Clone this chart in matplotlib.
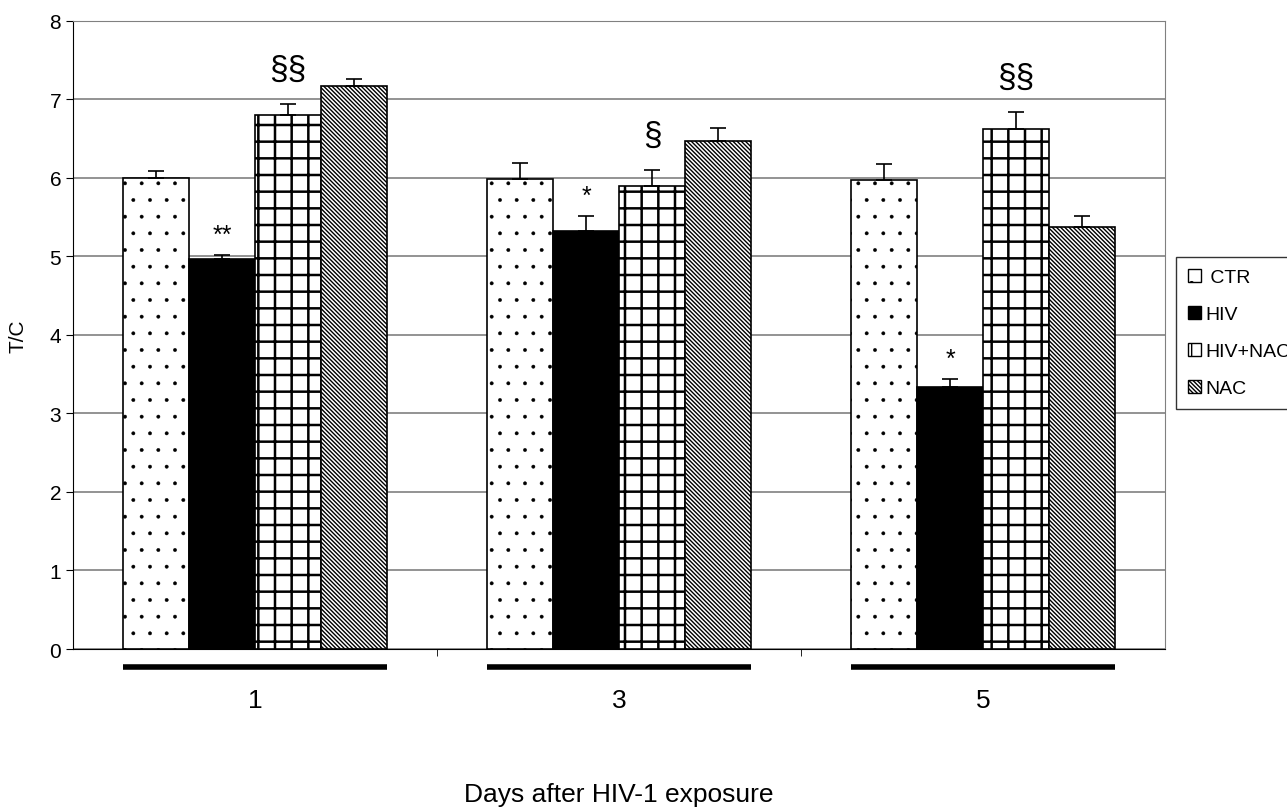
import matplotlib
matplotlib.use('Agg')
import matplotlib.pyplot as plt
from matplotlib.patches import Patch
from matplotlib.transforms import blended_transform_factory
import numpy as np

plt.rcParams['font.family'] = ['Liberation Sans', 'DejaVu Sans']

# data
days = ['1', '3', '5']
groups = ['CTR', 'HIV', 'HIV+NAC', 'NAC']
ctr = [6.00, 5.99, 5.98]
hiv = [4.97, 5.32, 3.34]
hiv_nac = [6.80, 5.90, 6.62]
nac = [7.17, 6.47, 5.37]
ctr_err = [0.09, 0.20, 0.20]
hiv_err = [0.05, 0.20, 0.10]
hiv_nac_err = [0.14, 0.20, 0.22]
nac_err = [0.09, 0.16, 0.15]
# significance marks: (day index, group index, label)
sig_marks = [(0, 1, '**'), (0, 2, '§§'), (1, 1, '*'), (1, 2, '§'),
             (2, 1, '*'), (2, 2, '§§')]

values = [ctr, hiv, hiv_nac, nac]
errors = [ctr_err, hiv_err, hiv_nac_err, nac_err]
faces = ['white', 'black', 'white', 'white']
hatches = ['.', None, '+', '\\' * 8]
hatch_lw = [0.3, 1.0, 1.8, 1.0]

fig = plt.figure(figsize=(12.87, 8.12), dpi=100)
ax = fig.add_axes([0.0567, 0.1995, 0.8485, 0.7735])

x = np.arange(len(days))
w = 0.1813
for i in range(len(groups)):
    pos = x + (i - 1.5) * w
    with plt.rc_context({'hatch.linewidth': hatch_lw[i]}):
        bars = ax.bar(pos, values[i], width=w, color=faces[i],
                      edgecolor='black', hatch=hatches[i], linewidth=1.2,
                      label=groups[i], zorder=3)
        for b in bars:
            if hasattr(b, 'set_hatch_linewidth'):
                b.set_hatch_linewidth(hatch_lw[i])
    ax.errorbar(pos, values[i], yerr=[np.zeros(3), errors[i]], fmt='none',
                ecolor='black', elinewidth=1.2, capsize=6, capthick=1.2,
                zorder=4)

for d, g, lab in sig_marks:
    px = x[d] + (g - 1.5) * w
    top = values[g][d] + errors[g][d]
    if '§' in lab:
        ax.text(px, top + 0.25, lab, ha='center', va='bottom', fontsize=24)
    else:
        ax.text(px, top + 0.1, lab, ha='center', va='bottom', fontsize=18)

ax.set_xlim(-0.5, 2.5)
ax.set_ylim(0, 8)
ax.set_yticks(range(0, 9))
ax.yaxis.grid(True, color='#808080', linewidth=1.2, zorder=0)
ax.set_axisbelow(True)
ax.tick_params(axis='y', labelsize=15, length=5, direction='out')
ax.set_ylabel('T/C', fontsize=15, labelpad=16)

ax.set_xticks(x)
ax.set_xticklabels(days, fontsize=19)
ax.tick_params(axis='x', which='major', length=0, pad=28)
ax.set_xticks([0.5, 1.5], minor=True)
ax.tick_params(axis='x', which='minor', length=5, direction='out')
fig.text(619 / 1287, 1 - 795 / 812, 'Days after HIV-1 exposure',
         ha='center', va='center', fontsize=19)

for s in ['top', 'right']:
    ax.spines[s].set_color('#808080')
for s in ['left', 'bottom']:
    ax.spines[s].set_color('black')

# group underline bars
trans = blended_transform_factory(ax.transData, ax.transAxes)
for xi in x:
    ax.plot([xi - 2 * w, xi + 2 * w], [-0.029, -0.029], color='black',
            linewidth=4, transform=trans, clip_on=False,
            solid_capstyle='butt')

handles = []
for i in range(4):
    p = Patch(facecolor=faces[i], edgecolor='black', hatch=hatches[i],
              label=(' ' + groups[i]) if i == 0 else groups[i])
    handles.append(p)
leg = fig.legend(handles=handles, loc='upper left',
                 bbox_to_anchor=(1176 / 1287, 1 - 258 / 812), fontsize=14,
                 frameon=True, fancybox=False, edgecolor='black',
                 handlelength=0.7, handleheight=0.7, handletextpad=0.2,
                 labelspacing=1.0, borderpad=0.6, borderaxespad=0)
leg.get_frame().set_linewidth(1.0)

fig.savefig('out.png', dpi=100)
